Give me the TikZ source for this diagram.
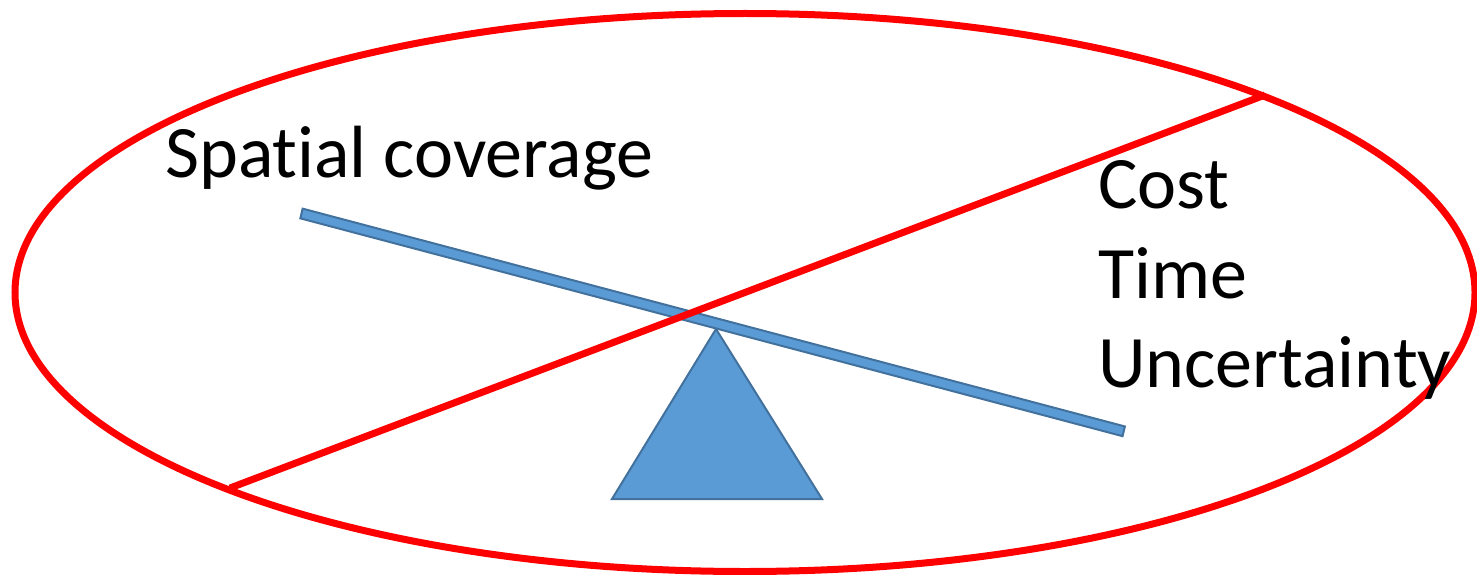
\documentclass[tikz,border=0pt]{standalone}
\usepackage{fontspec}
\setmainfont[Ligatures={NoCommon},RawFeature={-liga;-clig;-dlig}]{Carlito}
\definecolor{barfill}{HTML}{5B9BD5}
\definecolor{barline}{HTML}{41719C}
\begin{document}
\begin{tikzpicture}[x=1pt,y=-1pt,
  redline/.style={draw=red,line width=7pt},
  bluepart/.style={fill=barfill,draw=barline,line width=2pt,line join=miter},
  label/.style={inner sep=0pt,anchor=base west,text=black,font=\fontsize{74}{89}\selectfont}]
\useasboundingbox (0,0) rectangle (1477,575);
\fill[white] (0,0) rectangle (1477,575);
% ellipse
\draw[redline] (745,292.5) ellipse [x radius=730, y radius=279];
% seesaw bar
\draw[bluepart] (302.65,208.65) -- (300.35,218.35) -- (1122.55,436.15) -- (1124.85,426.45) -- cycle;
% fulcrum
\draw[bluepart] (716,329) -- (612,499) -- (822,499) -- cycle;
% crossing line
\coordinate (la) at (230,488);
\coordinate (lb) at (1265,95);
\draw[redline] (la) -- (lb);
% labels
\node[label] (spatial) at (165,177) {Spatial coverage};
\node[label] (cost) at (1098,208) {Cost};
\node[label] (time) at (1098,298) {Time};
\node[label] (unc) at (1098,387) {Uncertainty};
\end{tikzpicture}
\end{document}
